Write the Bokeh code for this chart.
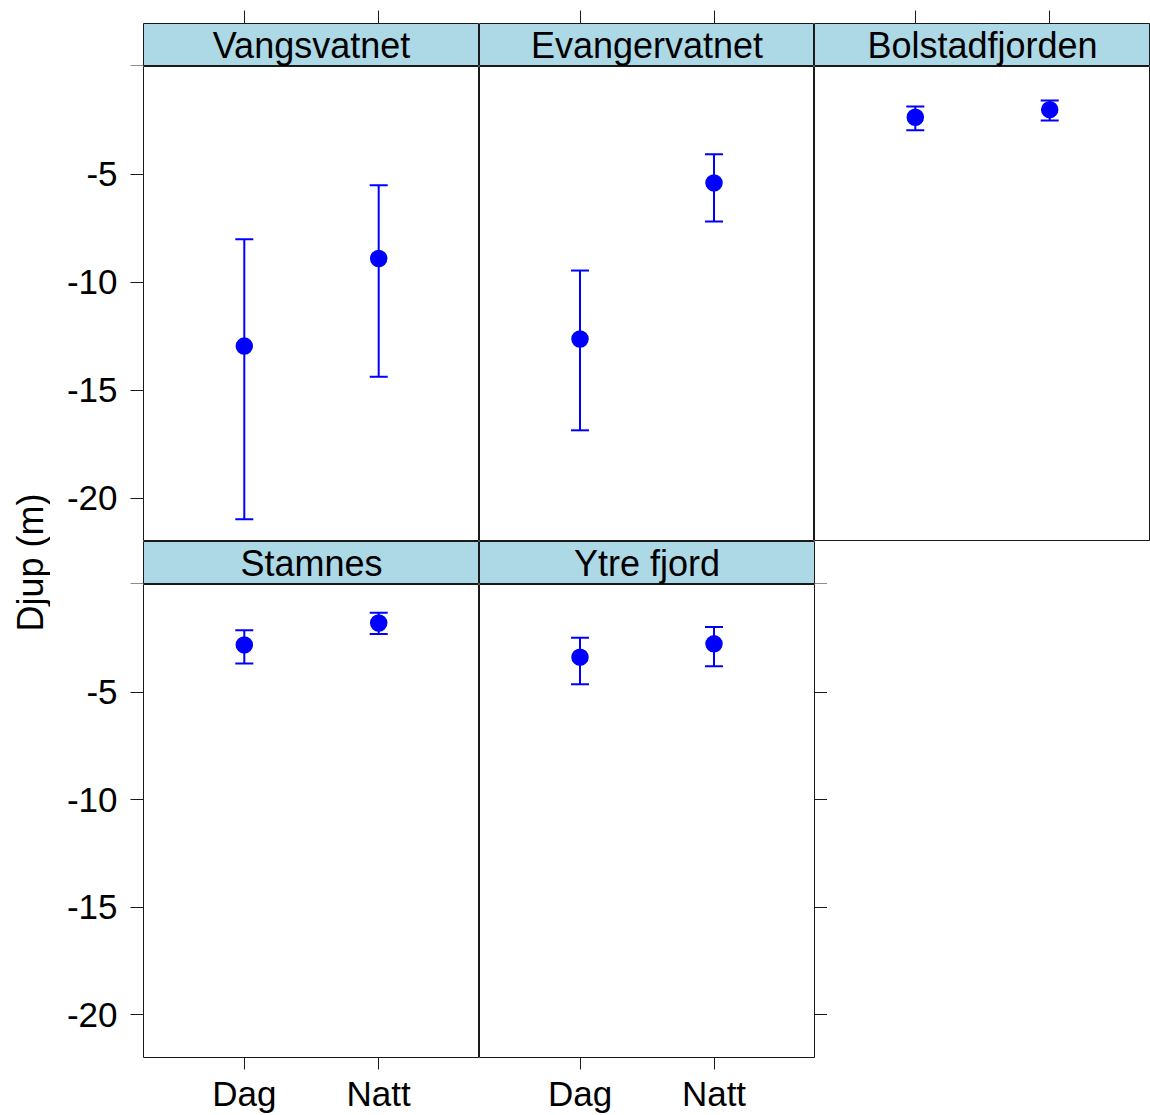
import math
from bokeh.plotting import figure
from bokeh.models import (FactorRange, Range1d, FixedTicker, LinearAxis,
                          CategoricalAxis, Label, ColumnDataSource)
from bokeh.layouts import row, column
from bokeh.embed import file_html
from bokeh.resources import INLINE

# ---------------- data ----------------
sites = ["Vangsvatnet", "Evangervatnet", "Bolstadfjorden", "Stamnes", "Ytre fjord"]
periods = ["Dag", "Natt"]

mean_dag = [-12.95, -12.62, -2.35, -2.81, -3.38]
upper_dag = [-8.0, -9.45, -1.85, -2.13, -2.48]
lower_dag = [-20.97, -16.85, -2.95, -3.67, -4.64]

mean_natt = [-8.89, -5.39, -2.0, -1.79, -2.76]
upper_natt = [-5.5, -4.06, -1.57, -1.31, -1.98]
lower_natt = [-14.37, -7.18, -2.5, -2.30, -3.80]

y_ticks = [-5, -10, -15, -20]
y_tick_labels = ["-5", "-10", "-15", "-20"]
y_top_tick = [0]
y_label = "Djup (m)"

# ---------------- style ----------------
FONT = "Liberation Sans"
BLUE = "#0000FF"
STRIP = "#ADD8E6"
LINE = "#1a1a1a"

LABW = 50
LEFT = 93
W1, W2, W3 = 336, 335, 336
PH = 475
SH = 43
TOP = 23
BOT = 56
RT = 13
TOTAL_H = TOP + SH + PH + SH + PH + BOT

xr = FactorRange(factors=periods, range_padding=0.25, range_padding_units="absolute")


def base_fig(width, height, y_range, **borders):
    p = figure(width=width, height=height, x_range=xr, y_range=y_range,
               output_backend="svg", toolbar_location=None,
               x_axis_location=None, y_axis_location=None, **borders)
    p.xgrid.grid_line_color = None
    p.ygrid.grid_line_color = None
    p.outline_line_color = LINE
    p.outline_line_width = 1
    p.background_fill_color = "white"
    p.border_fill_color = "white"
    return p


def tick_only_axis(ticks, cls=LinearAxis, width=1):
    kw = dict(major_tick_out=13, major_tick_in=0, minor_tick_out=0, minor_tick_in=0,
              axis_line_color=None, major_tick_line_color=LINE,
              major_tick_line_width=width,
              major_label_text_font_size="0px", major_label_text_color=None,
              major_label_standoff=0)
    if ticks is not None:
        kw["ticker"] = FixedTicker(ticks=ticks)
    return cls(**kw)


def y_axis():
    return LinearAxis(ticker=FixedTicker(ticks=y_ticks),
                      major_label_overrides={t: l for t, l in zip(y_ticks, y_tick_labels)},
                      major_tick_out=13, major_tick_in=0, minor_tick_out=0, minor_tick_in=0,
                      axis_line_color=None, major_tick_line_color=LINE,
                      major_label_text_font=FONT, major_label_text_font_size="35px",
                      major_label_text_color="black", major_label_standoff=13)


def panel(i, width, height, left=False, bottom=False, right=False):
    borders = dict(min_border=0)
    if left:
        borders["min_border_left"] = LEFT
    if bottom:
        borders["min_border_bottom"] = BOT
    if right:
        borders["min_border_right"] = RT
    p = base_fig(width, height, Range1d(-22, 0), **borders)
    src = ColumnDataSource(dict(
        x=periods,
        mean=[mean_dag[i], mean_natt[i]],
        hi=[upper_dag[i], upper_natt[i]],
        lo=[lower_dag[i], lower_natt[i]],
    ))
    p.segment(x0="x", y0="lo", x1="x", y1="hi", source=src, line_color=BLUE, line_width=2)
    p.scatter(x="x", y="hi", marker="dash", size=18, line_color=BLUE, line_width=2, source=src)
    p.scatter(x="x", y="lo", marker="dash", size=18, line_color=BLUE, line_width=2, source=src)
    p.scatter(x="x", y="mean", marker="circle", size=16, fill_color=BLUE,
              line_color=BLUE, line_width=1.5, source=src)
    if left:
        p.add_layout(y_axis(), "left")
    if right:
        p.add_layout(tick_only_axis(y_ticks), "right")
    if bottom:
        ax = CategoricalAxis(major_tick_out=12, major_tick_in=0, axis_line_color=None,
                             major_tick_line_color=LINE, major_label_text_font=FONT,
                             major_label_text_font_size="35px", major_label_text_color="black",
                             major_label_standoff=4)
        p.add_layout(ax, "below")
    return p


def strip(i, width, height, top=False, left=False, right=False):
    borders = dict(min_border=0)
    if left:
        borders["min_border_left"] = LEFT
    if right:
        borders["min_border_right"] = RT
    if top:
        borders["min_border_top"] = TOP
    p = base_fig(width, height, Range1d(0, 1), **borders)
    p.background_fill_color = STRIP
    p.add_layout(Label(x=1.0, y=0.5, text=sites[i], text_align="center",
                       text_baseline="middle", text_font=FONT, text_font_size="36px",
                       text_color="black"))
    if top:
        p.add_layout(tick_only_axis(None, CategoricalAxis), "above")
    # the 0 tick sits on the lower edge of the strip canvas: draw it 2px wide
    if left:
        p.add_layout(tick_only_axis(y_top_tick, width=2), "left")
    if right:
        p.add_layout(tick_only_axis(y_top_tick, width=2), "right")
    return p


s1 = strip(0, LEFT + W1, TOP + SH, top=True, left=True)
s2 = strip(1, W2, TOP + SH, top=True)
s3 = strip(2, W3, TOP + SH, top=True)
p1 = panel(0, LEFT + W1, PH, left=True)
p2 = panel(1, W2, PH)
p3 = panel(2, W3, PH)
s4 = strip(3, LEFT + W1, SH, left=True)
s5 = strip(4, W2 + RT, SH, right=True)
p4 = panel(3, LEFT + W1, PH + BOT, left=True, bottom=True)
p5 = panel(4, W2 + RT, PH + BOT, bottom=True, right=True)

lab = figure(width=LABW, height=TOTAL_H, x_range=Range1d(0, LABW), y_range=Range1d(TOTAL_H, 0),
             output_backend="svg", toolbar_location=None, min_border=0,
             x_axis_location=None, y_axis_location=None)
lab.xgrid.grid_line_color = None
lab.ygrid.grid_line_color = None
lab.outline_line_color = None
lab.add_layout(Label(x=30, y=562, text=y_label, angle=math.pi / 2, text_align="center",
                     text_baseline="middle", text_font=FONT, text_font_size="36px",
                     text_color="black"))

grid = column(row(s1, s2, s3), row(p1, p2, p3), row(s4, s5), row(p4, p5))
layout = row(lab, grid)

open("out.html", "w").write(file_html(layout, INLINE))
